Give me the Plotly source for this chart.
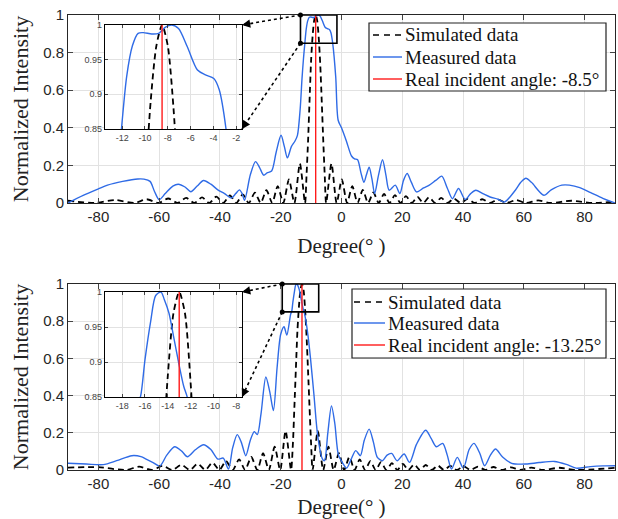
import plotly.graph_objects as go

W, H = 618, 519

# ---------------- data : top panel (incident angle -8.5 deg) ----------------
top_real_angle = -8.5
top_real_label = "Real incident angle: -8.5°"

top_meas_deg = [-90, -85, -80, -77, -72, -67, -65, -63, -61.5, -60, -58, -55.5, -53.7, -51.5,
                -49.6, -47.5, -45.4, -43, -40.7, -38.5, -36.2, -34.8, -33.6, -32.7, -31.9, -30,
                -28.3, -27, -25.6, -24.5, -23, -21.5, -19.9, -18.8, -17.8, -16.5, -15.3, -14.5,
                -13.6, -13.0, -12.5, -12.06, -11.6, -11.1, -10.6, -10.15, -9.4, -8.8, -8.2, -7.65,
                -7.06, -6.3, -5.4, -4.7, -3.97, -3.5, -2.9, -1.9, -1.1, 0, 1.6, 3.3, 4.3, 5.3,
                6.4, 7.4, 8.2, 9.1, 10, 10.9, 12.2, 13.5, 14.6, 15.7, 17.7, 19.2, 20.4, 21.6,
                23, 24.7, 27, 28.9, 31, 33, 34.8, 36.5, 38.5, 40.7, 42.5, 44.2, 46.5, 48.9,
                51.5, 53.6, 57.2, 59, 60.7, 62.5, 66.6, 69, 72.5, 75, 78.4, 82, 86, 90]
top_meas_val = [0.0, 0.04, 0.075, 0.095, 0.115, 0.128, 0.127, 0.115, 0.06, 0.018, 0.05, 0.09, 0.10, 0.085,
                0.06, 0.09, 0.12, 0.10, 0.07, 0.05, 0.027, 0.05, 0.07, 0.05, 0.014, 0.15,
                0.22, 0.19, 0.148, 0.16, 0.17, 0.27, 0.36, 0.30, 0.24, 0.30, 0.33, 0.36,
                0.50, 0.66, 0.77, 0.85, 0.926, 0.97, 0.988, 0.989, 0.987, 0.988, 0.997, 1.0,
                0.995, 0.969, 0.935, 0.928, 0.923, 0.907, 0.85, 0.67, 0.44, 0.40, 0.33, 0.25, 0.235, 0.23,
                0.16, 0.11, 0.15, 0.19, 0.13, 0.05, 0.15, 0.23, 0.15, 0.068, 0.095, 0.05, 0.12, 0.157,
                0.11, 0.059, 0.08, 0.095, 0.12, 0.143, 0.08, 0.023, 0.077, 0.018, 0.05, 0.068, 0.05, 0.032,
                0.02, 0.005, 0.068, 0.11, 0.132, 0.11, 0.041, 0.07, 0.095, 0.095, 0.082, 0.055, 0.025, 0.0]

top_sim_deg = [-90, -81.1, -74.6, -68.1, -64.1, -60.2, -57, -53.9, -51.1, -48.4, -45.9, -43.5,
               -41.2, -38.9, -36.7, -34.6, -32.5, -30.5, -28.5, -26.6, -24.7, -22.8, -21.0, -19.15,
               -17.3, -15.5, -13.7, -12.0, -11.5, -11, -10.5, -10, -9.5, -9, -8.5, -8, -7.5, -7,
               -6.5, -6, -5.5, -5.05, -3.3, -1.6, 0.1, 1.83, 3.55, 5.28, 7.0, 8.74, 10.5, 12.24,
               14.0, 15.8, 17.6, 19.4, 21.2, 23.1, 25.0, 26.9, 28.8, 30.8, 32.8, 34.9, 37.0, 39.2,
               41.5, 43.8, 46.3, 48.8, 51.5, 54.3, 57.5, 60.7, 64.7, 68.7, 75.7, 82.7, 90]
top_sim_val = [0.012, 0.0, 0.016, 0.0, 0.02, 0.0, 0.024, 0.0, 0.027, 0.0, 0.030, 0.0,
               0.034, 0.0, 0.040, 0.0, 0.046, 0.0, 0.055, 0.0, 0.068, 0.0, 0.09, 0.0,
               0.125, 0.0, 0.21, 0.0, 0.15, 0.33, 0.55, 0.76, 0.89, 0.97, 1.0, 0.97, 0.88, 0.74,
               0.54, 0.33, 0.14, 0.0, 0.21, 0.0, 0.125, 0.0, 0.09, 0.0, 0.07, 0.0, 0.056, 0.0,
               0.048, 0.0, 0.042, 0.0, 0.037, 0.0, 0.033, 0.0, 0.03, 0.0, 0.027, 0.0, 0.024, 0.0,
               0.022, 0.0, 0.02, 0.0, 0.018, 0.0, 0.016, 0.0, 0.014, 0.0, 0.012, 0.0, 0.008]

# ---------------- data : bottom panel (incident angle -13.25 deg) ----------------
bot_real_angle = -13.0
bot_real_label = "Real incident angle: -13.25°"

bot_meas_deg = [-90, -84, -78.4, -74, -69, -66, -64.3, -62, -59.8, -57.5, -54.9, -52.5, -50.7, -48,
                -45.4, -43, -40.7, -38.9, -37.2, -35.8, -34.3, -33, -31.5, -30, -28.7, -27.7, -26.5,
                -24.9, -23.6, -22.4, -21.2, -20, -18.9, -18, -16.7, -16.4, -16.0, -15.5, -15.06,
                -14.6, -14.3, -13.9, -13.5, -13.06, -12.6, -12.3, -11.8, -11, -10.2, -9.1, -7.8,
                -6.3, -5.6, -4.5, -3.3, -2.2, -1, 0.3, 1.7, 3.2, 4.7, 6.2, 7.5, 9.1, 10.5, 11.8,
                13.5, 15, 16.5, 18.3, 20.6, 22.4, 24.7, 27.7, 29.5, 31.2, 33.3, 34.8, 36.2, 38.1,
                40.1, 42, 43.6, 45.5, 47.1, 49, 50.7, 53, 56, 60.7, 65, 70.1, 74, 77.2, 81.9, 86, 90]
bot_meas_val = [0.036, 0.032, 0.029, 0.05, 0.077, 0.072, 0.059, 0.04, 0.021, 0.08, 0.125, 0.1, 0.071, 0.11,
                0.136, 0.11, 0.059, 0.064, 0.005, 0.12, 0.19, 0.15, 0.077, 0.16, 0.206, 0.19, 0.3,
                0.50, 0.42, 0.32, 0.55, 0.73, 0.77, 0.725, 0.84, 0.85, 0.903, 0.958, 0.995,
                1.0, 0.989, 0.97, 0.937, 0.90, 0.865, 0.85, 0.81, 0.72, 0.6, 0.41, 0.18,
                0.06, 0.05, 0.2, 0.345, 0.25, 0.08, 0.04, 0.01, 0.059, 0.104, 0.077, 0.16, 0.22, 0.15, 0.068,
                0.05, 0.08, 0.089, 0.05, 0.086, 0.041, 0.139, 0.214, 0.17, 0.125, 0.143, 0.08, 0.005, 0.068,
                0.01, 0.11, 0.143, 0.09, 0.023, 0.08, 0.113, 0.07, 0.036, 0.032, 0.04, 0.046, 0.03, 0.01, 0.018, 0.022, 0.023]

bot_sim_deg = [-90, -80, -70.9, -66.6, -62.3, -58.9, -55.6, -52.7, -49.9, -47.3, -44.8, -42.5,
               -40.2, -38.0, -35.8, -33.7, -31.7, -29.7, -27.7, -25.8, -23.9, -22.0, -20.18, -18.4,
               -16.6, -16, -15.5, -15, -14.5, -14, -13.5, -13, -12.5, -12, -11.5, -11, -10.5, -10,
               -9.5, -7.8, -6.03, -4.3, -2.58, -0.86, 0.86, 2.6, 4.3, 6.0, 7.76, 9.5, 11.25, 13.0,
               14.77, 16.6, 18.36, 20.2, 22.0, 23.9, 25.8, 27.7, 29.7, 31.7, 33.7, 35.8, 37.95, 40.2,
               42.45, 44.9, 47.3, 50.0, 52.65, 55.7, 58.8, 62.5, 66.2, 71.7, 77.2, 90]
bot_sim_val = [0.013, 0.015, 0.0, 0.018, 0.0, 0.022, 0.0, 0.028, 0.0, 0.034, 0.0, 0.04,
               0.0, 0.048, 0.0, 0.057, 0.0, 0.07, 0.0, 0.09, 0.0, 0.125, 0.0, 0.21,
               0.0, 0.14, 0.34, 0.55, 0.75, 0.88, 0.97, 1.0, 0.97, 0.87, 0.72, 0.53, 0.33, 0.14,
               0.0, 0.21, 0.0, 0.125, 0.0, 0.09, 0.0, 0.07, 0.0, 0.057, 0.0, 0.048, 0.0, 0.042,
               0.0, 0.037, 0.0, 0.033, 0.0, 0.03, 0.0, 0.027, 0.0, 0.024, 0.0, 0.022, 0.0, 0.02,
               0.0, 0.018, 0.0, 0.016, 0.0, 0.014, 0.0, 0.013, 0.0, 0.012, 0.0, 0.012]

legend_labels = ["Simulated data", "Measured data"]
main_xticks = [-80, -60, -40, -20, 0, 20, 40, 60, 80]
main_xticktext = ["-80", "-60", "-40", "-20", "0", "20", "40", "60", "80"]
main_yticks = [0, 0.2, 0.4, 0.6, 0.8, 1]
main_yticktext = ["0", "0.2", "0.4", "0.6", "0.8", "1"]
top_zoom_x = [-13.5, -1.5]
bot_zoom_x = [-19.5, -7.5]
zoom_y = [0.85, 1.0]
top_inset_xticks = [-12, -10, -8, -6, -4, -2]
top_inset_xticktext = ["-12", "-10", "-8", "-6", "-4", "-2"]
bot_inset_xticks = [-18, -16, -14, -12, -10, -8]
bot_inset_xticktext = ["-18", "-16", "-14", "-12", "-10", "-8"]
inset_yticks = [0.85, 0.9, 0.95, 1]
inset_yticktext = ["0.85", "0.9", "0.95", "1"]

# ---------------- styles / layout geometry ----------------
BLUE = "#2f6be6"
RED = "#ff1a1a"
MAIN_X = [68 / W, 615 / W]
TOP_Y = [(H - 203) / H, (H - 15) / H]
BOT_Y = [(H - 470) / H, (H - 284) / H]
INS_X = [105 / W, 242 / W]
INS_TOP_Y = [(H - 129) / H, (H - 25) / H]
INS_BOT_Y = [(H - 397) / H, (H - 292) / H]
SERIF = "Liberation Serif"
SANS = "Liberation Sans"
SIM_LINE = dict(color="black", width=1.8, dash="6px,4px")
MEAS_LINE = dict(color=BLUE, width=1.4)
REAL_LINE = dict(color=RED, width=1.4)

fig = go.Figure()


def add_panel(xa, ya, sim_x, sim_y, meas_x, meas_y, ang, lab):
    fig.add_trace(go.Scatter(x=sim_x, y=sim_y, mode="lines", name=legend_labels[0],
                             line=dict(**SIM_LINE, shape="spline", smoothing=0.7),
                             xaxis=xa, yaxis=ya, showlegend=False, hoverinfo="skip"))
    fig.add_trace(go.Scatter(x=meas_x, y=meas_y, mode="lines", name=legend_labels[1],
                             line=dict(**MEAS_LINE, shape="spline", smoothing=0.8),
                             xaxis=xa, yaxis=ya, showlegend=False, hoverinfo="skip"))
    fig.add_trace(go.Scatter(x=[ang, ang], y=[0, 1], mode="lines", name=lab,
                             line=REAL_LINE, xaxis=xa, yaxis=ya, showlegend=False, hoverinfo="skip"))


add_panel("x", "y", top_sim_deg, top_sim_val, top_meas_deg, top_meas_val, top_real_angle, top_real_label)
add_panel("x2", "y2", bot_sim_deg, bot_sim_val, bot_meas_deg, bot_meas_val, bot_real_angle, bot_real_label)
add_panel("x3", "y3", top_sim_deg, top_sim_val, top_meas_deg, top_meas_val, top_real_angle, top_real_label)
add_panel("x4", "y4", bot_sim_deg, bot_sim_val, bot_meas_deg, bot_meas_val, bot_real_angle, bot_real_label)

grid = "#e2e2e2"
axcol = "#262626"


def main_x(dom, anchor):
    return dict(domain=dom, anchor=anchor, range=[-90, 90], tickvals=main_xticks, ticktext=main_xticktext,
                ticks="inside", ticklen=5,
                showline=True, mirror="allticks", linecolor=axcol, linewidth=1, showgrid=True, gridcolor=grid,
                zeroline=False, automargin=False, tickfont=dict(family=SANS, size=15, color=axcol),
                title=dict(text="Degree(° )", font=dict(family=SERIF, size=21, color="#222"), standoff=14))


def main_y(dom, anchor):
    return dict(domain=dom, anchor=anchor, range=[0, 1], tickvals=main_yticks, ticktext=main_yticktext,
                ticks="inside", ticklen=5,
                showline=True, mirror="allticks", linecolor=axcol, linewidth=1, showgrid=True, gridcolor=grid,
                zeroline=False, automargin=False, tickfont=dict(family=SANS, size=15, color=axcol),
                title=dict(text="Normalized Intensity", font=dict(family=SERIF, size=22, color="#222"), standoff=8))


def ins_x(dom, anchor, rng, tv, tt):
    return dict(domain=dom, anchor=anchor, range=rng, tickvals=tv, ticktext=tt, ticks="inside", ticklen=3,
                showline=True, mirror="allticks", linecolor="black", linewidth=1.2, showgrid=True, gridcolor=grid,
                zeroline=False, automargin=False, tickfont=dict(family=SANS, size=9, color="#444"))


def ins_y(dom, anchor):
    return dict(domain=dom, anchor=anchor, range=zoom_y, tickvals=inset_yticks, ticktext=inset_yticktext,
                ticks="inside", ticklen=3,
                showline=True, mirror="allticks", linecolor="black", linewidth=1.2, showgrid=True, gridcolor=grid,
                zeroline=False, automargin=False, tickfont=dict(family=SANS, size=9, color="#444"))


fig.update_layout(
    width=W, height=H, margin=dict(l=0, r=0, t=0, b=0, autoexpand=False),
    paper_bgcolor="white", plot_bgcolor="white", showlegend=False,
    xaxis=main_x(MAIN_X, "y"), yaxis=main_y(TOP_Y, "x"),
    xaxis2=main_x(MAIN_X, "y2"), yaxis2=main_y(BOT_Y, "x2"),
    xaxis3=ins_x(INS_X, "y3", top_zoom_x, top_inset_xticks, top_inset_xticktext), yaxis3=ins_y(INS_TOP_Y, "x3"),
    xaxis4=ins_x(INS_X, "y4", bot_zoom_x, bot_inset_xticks, bot_inset_xticktext), yaxis4=ins_y(INS_BOT_Y, "x4"),
)


def to_paper(xv, yv, ydom):
    px = MAIN_X[0] + (xv + 90) / 180 * (MAIN_X[1] - MAIN_X[0])
    py = ydom[0] + yv * (ydom[1] - ydom[0])
    return px, py


shapes = []
annotations = []
for xr, yr, zx, ydom, idom in [("x", "y", top_zoom_x, TOP_Y, INS_TOP_Y), ("x2", "y2", bot_zoom_x, BOT_Y, INS_BOT_Y)]:
    shapes.append(dict(type="rect", xref=xr, yref=yr, x0=zx[0], x1=zx[1], y0=zoom_y[0], y1=zoom_y[1],
                       line=dict(color="black", width=1.6)))
    pairs = [(to_paper(zx[0], zoom_y[1], ydom), (INS_X[1], idom[1])),
             (to_paper(zx[0], zoom_y[0], ydom), (INS_X[1], idom[0]))]
    for (tx, ty), (hx, hy) in pairs:
        shapes.append(dict(type="line", xref="paper", yref="paper", x0=tx, y0=ty, x1=hx, y1=hy,
                           line=dict(color="black", width=1.6, dash="dot")))
        shapes.append(dict(type="circle", xref="paper", yref="paper", xsizemode="pixel", ysizemode="pixel",
                           xanchor=tx, yanchor=ty, x0=-2.5, x1=2.5, y0=-2.5, y1=2.5,
                           fillcolor="black", line=dict(color="black", width=0)))
        dxp = (tx - hx) * W
        dyp = -(ty - hy) * H
        n = (dxp ** 2 + dyp ** 2) ** 0.5
        annotations.append(dict(x=hx, y=hy, xref="paper", yref="paper", text="", showarrow=True,
                                ax=dxp / n * 9, ay=dyp / n * 9, arrowhead=2, arrowsize=1.1,
                                arrowwidth=1.5, arrowcolor="black"))

# ---- legends (drawn as boxes with line samples and real text) ----
legend_boxes = [
    dict(box=(369, 23, 606, 91), rows=(35, 57, 79), sample=(373, 402), labels=legend_labels + [top_real_label]),
    dict(box=(352, 289, 606, 358), rows=(302, 323, 345), sample=(354, 385), labels=legend_labels + [bot_real_label]),
]
for lg in legend_boxes:
    l, t, r, b = lg["box"]
    shapes.append(dict(type="rect", xref="paper", yref="paper", x0=l / W, x1=r / W, y0=(H - b) / H, y1=(H - t) / H,
                       fillcolor="white", line=dict(color="#222", width=1.2), layer="above"))
    for row, style, text in zip(lg["rows"], [SIM_LINE, MEAS_LINE, REAL_LINE], lg["labels"]):
        s0, s1 = lg["sample"]
        st = dict(style)
        if "dash" in st:
            st.update(dash="6px,5px", width=1.5)
        shapes.append(dict(type="line", xref="paper", yref="paper", x0=s0 / W, x1=s1 / W,
                           y0=(H - row) / H, y1=(H - row) / H, line=st))
        annotations.append(dict(x=(s1 + 1) / W, y=(H - row) / H, xref="paper", yref="paper", text=text,
                                showarrow=False, xanchor="left", yanchor="middle",
                                font=dict(family=SERIF, size=19, color="#111")))

fig.update_layout(shapes=shapes, annotations=annotations)
fig.write_html("out.html", config={"displayModeBar": False},
               post_script="document.body.style.margin='0';document.body.style.overflow='hidden';")
